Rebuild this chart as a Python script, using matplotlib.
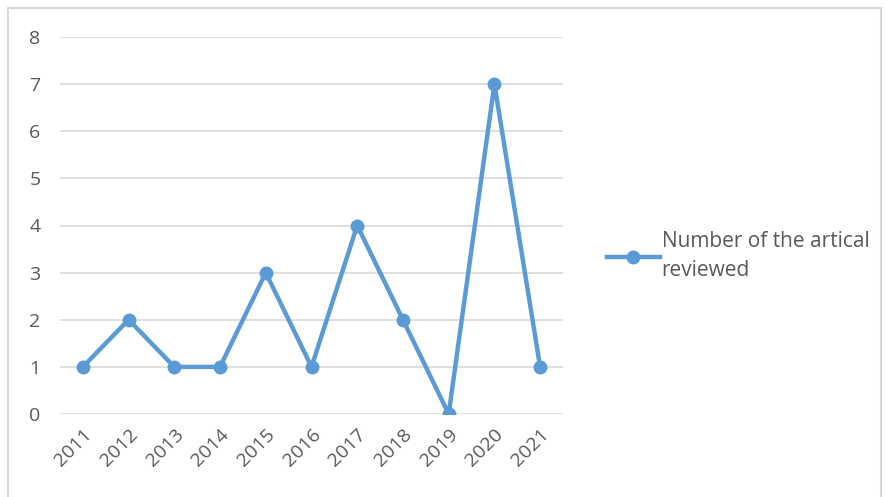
import matplotlib.pyplot as plt
from matplotlib.patches import Rectangle

# Data
years = ["2011", "2012", "2013", "2014", "2015", "2016",
         "2017", "2018", "2019", "2020", "2021"]
articles = [1, 2, 1, 1, 3, 1, 4, 2, 0, 7, 1]
series_label = "Number of the artical\nreviewed"

line_color = "#5B9BD5"
text_color = "#595959"
grid_color = "#D9D9D9"

plt.rcParams["font.family"] = ["Open Sans", "DejaVu Sans"]

fig = plt.figure(figsize=(8.85, 4.97), dpi=100)
ax = fig.add_axes([60 / 885, 1 - 414 / 497, 503 / 885, 377 / 497])

x = list(range(len(years)))
ax.plot(x, articles, color=line_color, linewidth=3.2, marker="o",
        markersize=9, label=series_label, solid_joinstyle="miter", zorder=3)

ax.set_xlim(-0.5, len(years) - 0.5)
ax.set_ylim(0, 8)
ax.set_yticks(range(0, 9))
ax.set_xticks(x)
ax.set_xticklabels(years, rotation=45, ha="right", rotation_mode="anchor")
ax.tick_params(axis="both", length=0, labelsize=14, colors=text_color)
ax.tick_params(axis="y", pad=14)
ax.tick_params(axis="x", pad=8)

ax.grid(axis="y", color=grid_color, linewidth=1.2)
ax.set_axisbelow(True)
for spine in ax.spines.values():
    spine.set_visible(False)

leg = ax.legend(loc="center left", bbox_to_anchor=(597 / 885, 1 - 256 / 497),
                bbox_transform=fig.transFigure, frameon=False, fontsize=15,
                labelcolor=text_color, handlelength=2.5, handletextpad=0.1,
                borderpad=0, labelspacing=0.2)
for t in leg.get_texts():
    t.set_linespacing(1.45)

# Light border around the chart area
fig.patches.append(Rectangle((8 / 885, -0.05), 873 / 885, 1.05 - 8 / 497,
                             transform=fig.transFigure, fill=False,
                             edgecolor="#D9D9D9", linewidth=1.5))

fig.savefig("out.png", dpi=100)
